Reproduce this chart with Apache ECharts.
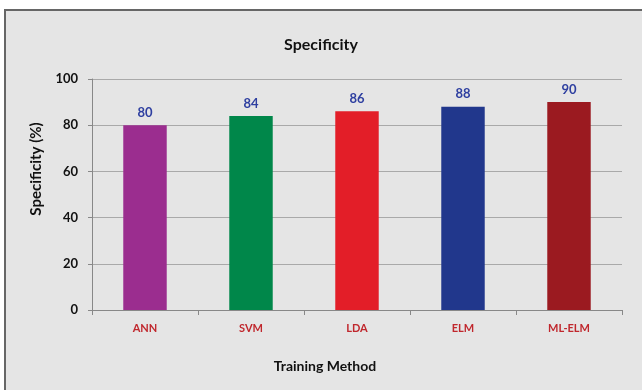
<!DOCTYPE html>
<html><head><meta charset="utf-8">
<script src="https://cdn.jsdelivr.net/npm/echarts@6/dist/echarts.min.js"></script>
<style>html,body{margin:0;padding:0;background:#fff}#c{width:642px;height:390px}</style>
</head><body><div id="c"></div>
<script>
const categories = ['ANN', 'SVM', 'LDA', 'ELM', 'ML-ELM'];
const values = [80, 84, 86, 88, 90];
const barColors = ['#9B2D8F', '#00874A', '#E31E28', '#21378C', '#9B1A20'];
const yTicks = [0, 20, 40, 60, 80, 100];

const font = 'Lato, "Open Sans", sans-serif';
const chart = echarts.init(document.getElementById('c'), null, {renderer: 'canvas'});
chart.setOption({
  backgroundColor: '#ffffff',
  animation: false,
  graphic: [{
    type: 'rect', z: -10, silent: true,
    shape: {x: 5, y: 10, width: 700, height: 500},
    style: {fill: '#e5e5e5', stroke: '#666', lineWidth: 2}
  }, {
    type: 'text', silent: true, x: 36, y: 169, rotation: Math.PI / 2,
    style: {text: 'Specificity (%)', fontFamily: font, fontWeight: 'bold', fontSize: 15, fill: '#111', align: 'center', verticalAlign: 'middle'}
  }, {
    type: 'text', silent: true, x: 325, y: 366,
    style: {text: 'Training Method', fontFamily: font, fontWeight: 'bold', fontSize: 14, fill: '#111', align: 'center', verticalAlign: 'middle'}
  }, {
    type: 'text', silent: true, x: 321, y: 45,
    style: {text: 'Specificity', fontFamily: font, fontWeight: 'bold', fontSize: 16, fill: '#111', align: 'center', verticalAlign: 'middle'}
  }],
  grid: {left: 92, right: 20, top: 79, bottom: 80, containLabel: false},
  xAxis: {
    type: 'category', data: categories,
    axisLine: {lineStyle: {color: '#888', width: 1}},
    axisTick: {show: true, alignWithLabel: false, length: 5, lineStyle: {color: '#888'}},
    axisLabel: {margin: 13, fontFamily: font, fontWeight: 'bold', fontSize: 11, color: '#C0272D'}
  },
  yAxis: {
    type: 'value', min: yTicks[0], max: yTicks[yTicks.length - 1], interval: 20,
    axisLine: {show: true, lineStyle: {color: '#888', width: 1}},
    axisTick: {show: true, length: 4, lineStyle: {color: '#888'}},
    axisLabel: {margin: 14, fontFamily: font, fontWeight: 'bold', fontSize: 13, color: '#111'},
    splitLine: {show: true, lineStyle: {color: '#a9a9a9', width: 1}}
  },
  series: [{
    type: 'bar', data: values.map((v, i) => ({value: v, itemStyle: {color: barColors[i]}})),
    barWidth: '41%',
    label: {show: true, position: 'top', distance: 6, fontFamily: font, fontWeight: 'bold', fontSize: 13, color: '#2E3FA0'}
  }]
});
</script></body></html>
